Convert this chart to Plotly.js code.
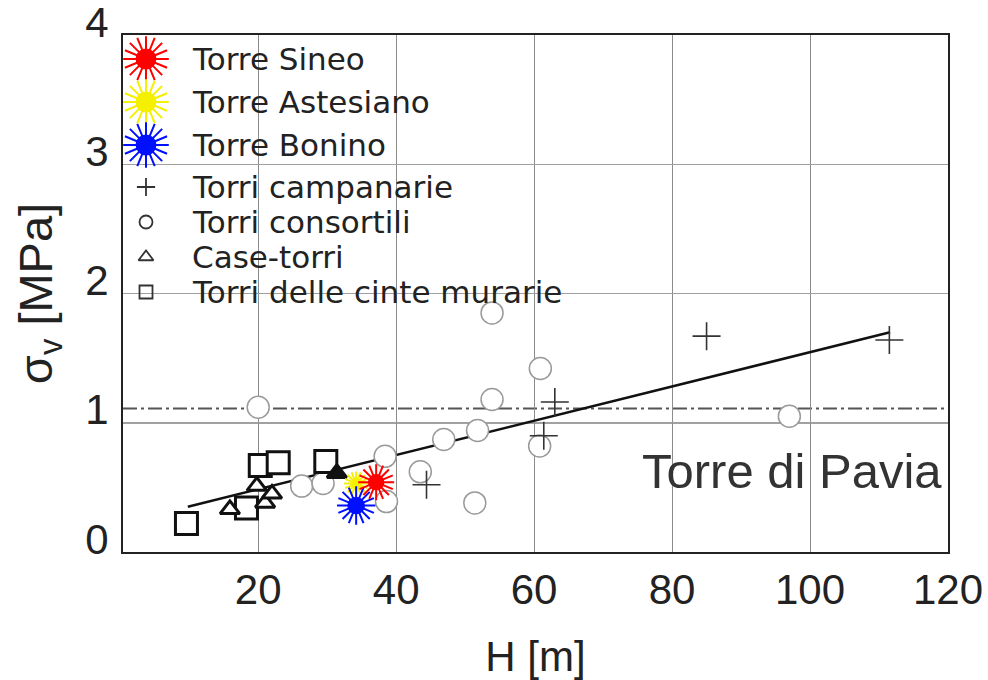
<!DOCTYPE html>
<html>
<head>
<meta charset="utf-8">
<script src="https://cdn.plot.ly/plotly-3.0.1.min.js"></script>
<style>html,body{margin:0;padding:0;background:#fff;}#chart{width:988px;height:680px;}</style>
</head>
<body>
<div id="chart"></div>
<script>
// ---- Data ----
const H_campanarie = [44.4, 61.4, 63.0, 85.0, 111.5];
const S_campanarie = [0.52, 0.90, 1.16, 1.67, 1.64];

const H_consortili = [20.0, 26.3, 29.4, 38.4, 38.6, 43.5, 46.9, 51.4, 51.8, 53.9, 53.9, 60.8, 60.9, 97.0];
const S_consortili = [1.12, 0.51, 0.53, 0.74, 0.39, 0.62, 0.87, 0.38, 0.94, 1.18, 1.85, 0.82, 1.42, 1.05];

const H_casetorri = [15.9, 19.8, 21.0, 22.0, 31.4];
const S_casetorri = [0.33, 0.51, 0.38, 0.45, 0.61];

const H_cinte = [9.6, 18.3, 20.3, 22.9, 29.8];
const S_cinte = [0.22, 0.34, 0.67, 0.69, 0.70];

const H_sineo = [37.1];      const S_sineo = [0.54];
const H_astesiano = [34.2];  const S_astesiano = [0.53];
const H_bonino = [34.2];     const S_bonino = [0.36];

const H_fit = [9.8, 111.6];
const S_fit = [0.35, 1.70];

const S_pavia = 1.11;       // dash-dot reference line
const S_reference = 1.0;    // solid reference line

const xTicks = [20, 40, 60, 80, 100, 120];
const yTicks = [0, 1, 2, 3, 4];

const legendLabels = ["Torre Sineo", "Torre Astesiano", "Torre Bonino",
  "Torri campanarie", "Torri consortili", "Case-torri", "Torri delle cinte murarie"];

// ---- Styles ----
const FONT = "Liberation Sans, Arial, sans-serif";
const LFONT = "DejaVu Sans, Verdana, sans-serif";
const starColors = {sineo: "#ff0000", astesiano: "#f4f000", bonino: "#0010ff"};

function starTraces(x, y, color, size, xa, ya) {
  const base = {x: x, y: y, mode: "markers", type: "scatter", hoverinfo: "skip", xaxis: xa, yaxis: ya, cliponaxis: false};
  return [
    Object.assign({}, base, {marker: {symbol: "asterisk-open", size: size, angle: 0, color: color, line: {color: color, width: 2}}}),
    Object.assign({}, base, {marker: {symbol: "asterisk-open", size: size, angle: 22.5, color: color, line: {color: color, width: 2}}}),
    Object.assign({}, base, {marker: {symbol: "circle", size: size * 0.55, color: color, line: {width: 0}}})
  ];
}

const traces = [];
// regression line
traces.push({x: H_fit, y: S_fit, mode: "lines", type: "scatter", line: {color: "#111", width: 2.5}, hoverinfo: "skip"});
// Torri consortili
traces.push({x: H_consortili, y: S_consortili, mode: "markers", type: "scatter", name: legendLabels[4],
  marker: {symbol: "circle", size: 22, color: "#fff", line: {color: "#9a9a9a", width: 1.5}}});
// Torri campanarie
traces.push({x: H_campanarie, y: S_campanarie, mode: "markers", type: "scatter", name: legendLabels[3],
  marker: {symbol: "cross-thin-open", size: 20, color: "#333", line: {color: "#333", width: 1.6}}});
// Torri delle cinte murarie
traces.push({x: H_cinte, y: S_cinte, mode: "markers", type: "scatter", name: legendLabels[6],
  marker: {symbol: "square", size: 22, color: "#fff", line: {color: "#111", width: 3}}});
// Case-torri
traces.push({x: H_casetorri, y: S_casetorri, mode: "markers", type: "scatter", name: legendLabels[5],
  marker: {symbol: "triangle-up", size: 17, color: H_casetorri.map((h, i) => i === H_casetorri.length - 1 ? "#111" : "#fff"),
    line: {color: "#111", width: 3}}});
// stars
starTraces(H_astesiano, S_astesiano, starColors.astesiano, 20, "x", "y").forEach(t => traces.push(t));
starTraces(H_bonino, S_bonino, starColors.bonino, 32, "x", "y").forEach(t => traces.push(t));
starTraces(H_sineo, S_sineo, starColors.sineo, 30, "x", "y").forEach(t => traces.push(t));

// ---- hand-built legend (paper-fraction overlay axes) ----
const plotTop = 35, plotBottom = 552, plotLeft = 123, plotRight = 948;
const pxToPaperY = py => (plotBottom - py) / (plotBottom - plotTop);
const pxToPaperX = px => (px - plotLeft) / (plotRight - plotLeft);
const rowPx = legendLabels.map((l, i) => i < 3 ? 59 + 43 * i : 187 + 35 * (i - 3));
const symX = pxToPaperX(146);
[starColors.sineo, starColors.astesiano, starColors.bonino].forEach((c, i) => {
  starTraces([symX], [pxToPaperY(rowPx[i])], c, 38, "x2", "y2").forEach(t => traces.push(t));
});
const smallSyms = ["cross-thin-open", "circle-open", "triangle-up-open", "square-open"];
traces.push({x: smallSyms.map(() => symX), y: smallSyms.map((s, i) => pxToPaperY(rowPx[i + 3])),
  mode: "markers", type: "scatter", xaxis: "x2", yaxis: "y2", hoverinfo: "skip", cliponaxis: false,
  marker: {symbol: smallSyms, size: 13, color: "#333", line: {color: "#333", width: 1.8}}});

const annotations = legendLabels.map((l, i) => ({
  text: l, xref: "paper", yref: "paper", x: pxToPaperX(190), y: pxToPaperY(rowPx[i]),
  xanchor: "left", yanchor: "middle", showarrow: false,
  font: {family: LFONT, size: 31, color: "#222"}
}));
annotations.push({text: "Torre di Pavia", xref: "x", yref: "y", x: 119.4, y: 0.63,
  xanchor: "right", yanchor: "middle", showarrow: false, font: {family: FONT, size: 49, color: "#333"}});

const layout = {
  width: 988, height: 680,
  margin: {l: plotLeft, r: 988 - plotRight, t: plotTop, b: 680 - plotBottom},
  paper_bgcolor: "#fff", plot_bgcolor: "#fff",
  showlegend: false,
  font: {family: FONT, color: "#222"},
  xaxis: {range: [0.4, 120], tickvals: xTicks, ticks: "", showgrid: true, gridcolor: "#8c8c8c", gridwidth: 1,
    zeroline: false, showline: true, mirror: true, linecolor: "#222", linewidth: 2,
    tickfont: {family: FONT, size: 42, color: "#222"},
    title: {text: "H [m]", font: {family: FONT, size: 42, color: "#222"}, standoff: 34}},
  yaxis: {range: [0, 4], tickvals: yTicks, ticks: "", showgrid: true, gridcolor: "#a0a0a0", gridwidth: 1,
    zeroline: false, showline: true, mirror: true, linecolor: "#222", linewidth: 2,
    ticklabelshift: -13, ticklabelstandoff: 4, ticklabeloverflow: "allow",
    tickfont: {family: FONT, size: 42, color: "#222"},
    title: {text: "σ<sub>v</sub> [MPa]", font: {family: FONT, size: 47, color: "#222"}, standoff: 18}},
  xaxis2: {overlaying: "x", anchor: "y2", range: [0, 1], visible: false, fixedrange: true},
  yaxis2: {overlaying: "y", anchor: "x2", range: [0, 1], visible: false, fixedrange: true},
  shapes: [
    {type: "line", xref: "paper", x0: 0, x1: 1, yref: "y", y0: S_reference, y1: S_reference, line: {color: "#444", width: 1.5}, layer: "below"},
    {type: "line", xref: "paper", x0: 0, x1: 1, yref: "y", y0: S_pavia, y1: S_pavia, line: {color: "#555", width: 2, dash: "14px,4px,3px,4px"}, layer: "below"}
  ],
  annotations: annotations
};

Plotly.newPlot("chart", traces, layout, {staticPlot: true, displayModeBar: false});
</script>
</body>
</html>
